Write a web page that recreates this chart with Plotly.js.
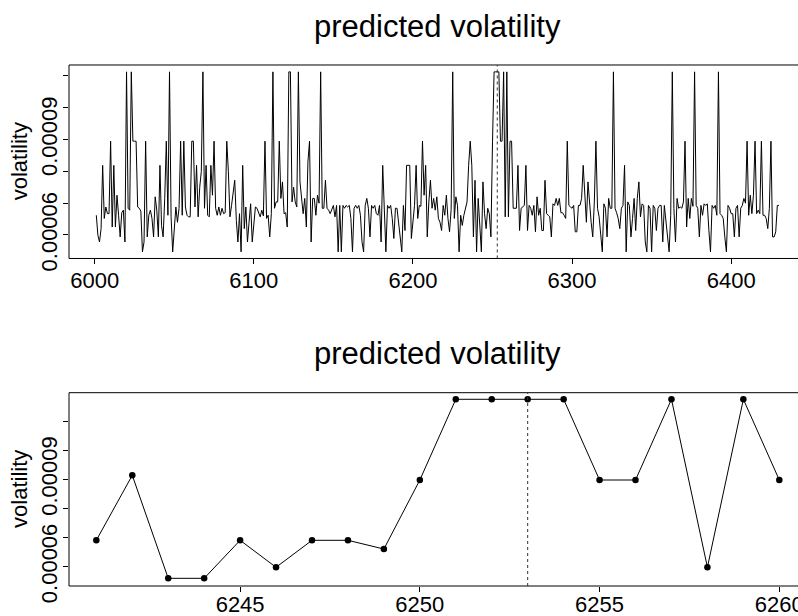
<!DOCTYPE html>
<html>
<head>
<meta charset="utf-8">
<script src="https://cdn.plot.ly/plotly-3.0.1.min.js"></script>
<style>html,body{margin:0;padding:0;background:#fff;}#chart{width:798px;height:616px;}</style>
</head>
<body>
<div id="chart"></div>
<script>
// ---- data (volatility in units of 1e-5) ----
const UNIT = 1e-5;
const topStartDay = 6001;
const topVol = [
 6.62, 5.99, 5.78, 6.2, 8.19, 6.52, 6.88, 6.67, 6.67, 8.95,
 6.25, 8.19, 6.25, 7.25, 6.62, 5.94, 6.7, 6.78, 5.78, 11.13,
 6.84, 6.78, 11.13, 8.95, 8.95, 8.95, 6.88, 6.84, 6.75, 5.47,
 5.78, 8.95, 5.94, 6.62, 6.78, 6.52, 5.94, 7.2, 6.78, 5.94,
 8.19, 6.3, 5.94, 7.15, 8.95, 6.62, 11.13, 6.57, 5.47, 6.2,
 6.88, 6.4, 6.84, 8.95, 6.62, 8.95, 6.88, 6.62, 6.57, 6.57,
 8.95, 8.95, 6.88, 8.19, 6.57, 7.5, 8.0, 11.13, 6.84, 8.19,
 6.62, 6.57, 8.19, 7.25, 8.95, 6.84, 6.62, 6.88, 6.62, 6.84,
 6.67, 6.7, 8.95, 8.0, 6.57, 6.93, 7.25, 7.72, 6.46, 5.78,
 6.67, 5.47, 8.19, 6.2, 6.88, 5.78, 6.4, 6.98, 5.78, 6.46,
 6.88, 6.84, 6.67, 6.57, 6.78, 6.6, 8.95, 6.52, 6.62, 5.94,
 6.67, 11.13, 6.84, 7.04, 7.04, 8.95, 7.15, 7.67, 6.67, 6.7,
 6.25, 11.13, 11.13, 7.04, 7.5, 7.04, 6.88, 11.13, 7.67, 7.25,
 6.67, 7.15, 6.25, 8.3, 8.95, 5.78, 7.15, 7.15, 6.62, 7.25,
 7.0, 11.13, 6.84, 6.84, 7.72, 6.84, 6.78, 6.67, 6.84, 6.93,
 6.57, 6.93, 5.47, 6.93, 5.47, 6.93, 6.84, 6.93, 6.88, 6.93,
 6.52, 5.47, 6.84, 6.93, 6.84, 6.93, 6.62, 5.78, 5.47, 6.93,
 7.15, 6.84, 5.94, 6.93, 6.84, 6.93, 6.67, 6.62, 6.93, 5.78,
 8.19, 6.93, 5.47, 6.93, 6.84, 6.93, 6.52, 5.89, 6.84, 6.84,
 6.4, 5.78, 5.47, 6.93, 6.14, 8.19, 8.19, 8.19, 5.89, 6.52,
 6.93, 8.19, 6.52, 6.93, 6.9, 8.95, 7.25, 8.19, 5.94, 7.04,
 7.72, 6.84, 7.15, 6.78, 7.2, 6.52, 6.4, 6.14, 6.93, 6.62,
 7.25, 6.52, 6.1, 6.8, 11.13, 6.52, 7.2, 6.93, 5.47, 6.62,
 6.3, 6.62, 6.88, 7.04, 8.19, 8.95, 8.19, 5.94, 7.72, 5.47,
 7.15, 6.2, 5.47, 7.67, 6.67, 6.2, 6.84, 6.67, 5.94, 8.93,
 11.13, 11.13, 11.13, 11.13, 8.95, 8.95, 11.13, 6.57, 11.13, 6.57,
 8.95, 8.95, 6.84, 6.84, 6.84, 8.19, 6.14, 6.84, 6.88, 6.93,
 8.19, 6.14, 6.93, 6.84, 6.62, 6.93, 6.1, 7.2, 6.62, 6.84,
 6.14, 6.14, 7.72, 6.67, 6.62, 6.57, 5.94, 6.98, 6.93, 7.15,
 6.93, 7.15, 6.7, 6.7, 6.62, 6.52, 8.95, 6.93, 6.88, 6.84,
 6.93, 6.1, 6.1, 6.93, 6.93, 7.15, 8.19, 7.25, 6.4, 7.67,
 6.93, 6.4, 5.94, 7.04, 8.95, 6.84, 6.57, 5.94, 5.47, 6.98,
 6.84, 5.94, 7.15, 6.84, 6.84, 11.13, 6.84, 6.7, 6.52, 6.2,
 6.84, 6.93, 8.19, 5.47, 7.04, 6.93, 5.94, 6.52, 7.15, 6.14,
 7.15, 7.67, 6.57, 6.98, 6.93, 5.78, 5.47, 6.93, 6.84, 5.47,
 6.93, 6.84, 6.14, 6.84, 6.93, 6.93, 5.78, 6.93, 6.4, 5.78,
 5.47, 6.62, 11.13, 6.84, 5.78, 7.15, 6.84, 6.88, 6.84, 7.04,
 8.95, 6.25, 7.15, 6.52, 7.15, 6.9, 11.13, 6.93, 6.84, 5.94,
 6.93, 6.62, 6.98, 6.93, 6.98, 6.14, 5.47, 6.93, 6.84, 6.93,
 6.62, 11.13, 6.67, 6.62, 6.52, 5.94, 5.47, 6.93, 6.84, 6.67,
 6.67, 5.94, 6.84, 6.93, 5.94, 6.84, 6.93, 7.15, 7.0, 8.95,
 6.62, 7.25, 6.67, 7.25, 8.95, 6.67, 6.78, 6.67, 8.95, 6.62,
 6.62, 6.52, 6.2, 6.84, 8.95, 5.94, 5.94, 6.1, 6.93, 6.93
];
const zoomDays = [6241,6242,6243,6244,6245,6246,6247,6248,6249,6250,
                  6251,6252,6253,6254,6255,6256,6257,6258,6259,6260];
const zoomVol  = [6.906, 9.137, 5.602, 5.602, 6.906, 5.98, 6.906, 6.906, 6.607, 8.975,
                  11.745, 11.745, 11.745, 11.745, 8.975, 8.975, 11.745, 5.98, 11.745, 8.975];
const markDay = 6253;
const topXTicks = [6000, 6100, 6200, 6300, 6400];
const zoomXTicks = [6245, 6250, 6255, 6260];
const yTickUnits = [6, 7, 8, 9, 10, 11];
const yTickText = ['0.00006', '', '', '0.00009', '', ''];
const titleText = 'predicted volatility';
const yTitleText = 'volatility';

// ---- build ----
const topDays = topVol.map((_, i) => topStartDay + i);
const toVal = a => a.map(v => v * UNIT);

const traces = [
  {x: topDays, y: toVal(topVol), xaxis: 'x', yaxis: 'y', type: 'scatter', mode: 'lines',
   line: {color: '#000', width: 1}, hoverinfo: 'x+y'},
  {x: zoomDays, y: toVal(zoomVol), xaxis: 'x2', yaxis: 'y2', type: 'scatter', mode: 'lines+markers',
   line: {color: '#000', width: 1}, marker: {color: '#000', size: 6.5}, hoverinfo: 'x+y'}
];

const FONT = 'Liberation Sans, Arial, Helvetica, sans-serif';
const xCommon = {ticks: 'outside', ticklen: 5, tickwidth: 1, tickcolor: '#000', showgrid: false,
  zeroline: false, showline: false, tickfont: {size: 22, color: '#000'}, fixedrange: true,
  ticklabeloverflow: 'allow'};
const yCommon = Object.assign({}, xCommon, {tickvals: toVal(yTickUnits), ticktext: yTickText,
  tickangle: -90, ticklabelstandoff: -3});

const topDom = [0.5804, 0.8945];
const botDom = [0.0487, 0.3625];

const layout = {
  width: 798, height: 616,
  margin: {l: 69, r: 0, t: 0, b: 0},
  paper_bgcolor: '#fff', plot_bgcolor: '#fff',
  font: {family: FONT, size: 22, color: '#000'},
  showlegend: false,
  xaxis: Object.assign({}, xCommon, {domain: [0, 1], anchor: 'y', range: [5983.84, 6442.0],
    tickvals: topXTicks, ticklabelstandoff: -3}),
  yaxis: Object.assign({}, yCommon, {domain: topDom, anchor: 'x', range: [5.261e-5, 11.346e-5]}),
  xaxis2: Object.assign({}, xCommon, {domain: [0, 1], anchor: 'y2', range: [6240.24, 6260.52],
    tickvals: zoomXTicks, ticklabelstandoff: -6}),
  yaxis2: Object.assign({}, yCommon, {domain: botDom, anchor: 'x2', range: [5.338e-5, 11.971e-5]}),
  shapes: [
    {type: 'rect', xref: 'paper', yref: 'paper', x0: 0, x1: 1.05, y0: topDom[0], y1: topDom[1],
     line: {color: '#000', width: 1}, fillcolor: 'rgba(0,0,0,0)', layer: 'above'},
    {type: 'rect', xref: 'paper', yref: 'paper', x0: 0, x1: 1.05, y0: botDom[0], y1: botDom[1],
     line: {color: '#000', width: 1}, fillcolor: 'rgba(0,0,0,0)', layer: 'above'},
    {type: 'line', xref: 'x', yref: 'y domain', x0: markDay, x1: markDay, y0: 0, y1: 1,
     line: {color: '#333', width: 1, dash: 'dot'}},
    {type: 'line', xref: 'x2', yref: 'y2 domain', x0: markDay, x1: markDay, y0: 0, y1: 1,
     line: {color: '#333', width: 1, dash: 'dot'}}
  ],
  annotations: [
    {text: titleText, xref: 'paper', yref: 'paper', x: 0.5053, y: 0.9575, xanchor: 'center', yanchor: 'middle',
     showarrow: false, font: {size: 31, color: '#000'}},
    {text: titleText, xref: 'paper', yref: 'paper', x: 0.5053, y: 0.4255, xanchor: 'center', yanchor: 'middle',
     showarrow: false, font: {size: 31, color: '#000'}},
    {text: yTitleText, xref: 'paper', yref: 'paper', x: -0.0679, y: 0.7374, xanchor: 'center', yanchor: 'middle',
     textangle: -90, showarrow: false, font: {size: 22, color: '#000'}},
    {text: yTitleText, xref: 'paper', yref: 'paper', x: -0.0679, y: 0.2055, xanchor: 'center', yanchor: 'middle',
     textangle: -90, showarrow: false, font: {size: 22, color: '#000'}}
  ]
};

Plotly.newPlot('chart', traces, layout, {displayModeBar: false, staticPlot: true});
</script>
</body>
</html>
